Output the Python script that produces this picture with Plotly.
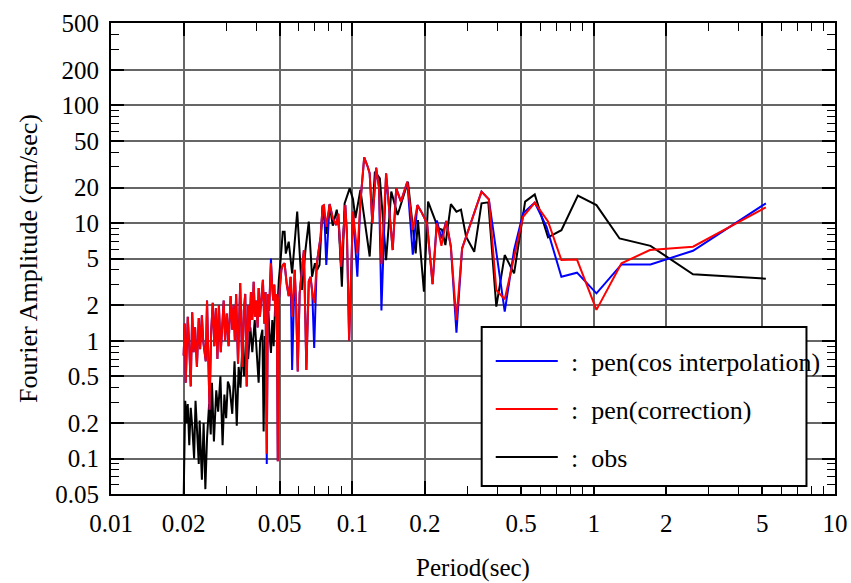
import math
import plotly.graph_objects as go

# ---------------- data ----------------
series_names = ["pen(cos interpolation)", "pen(correction)", "obs"]
series_colors = ["#0000ff", "#ff0000", "#000000"]

period_red = [0.0200,0.0202,0.0204,0.0208,0.0211,0.0214,0.0217,0.0220,0.0223,0.0227,
              0.0231,0.0234,0.0238,0.0241,0.0247,0.0250,0.0256,0.0260,0.0264,0.0268,
              0.0272,0.0276,0.0280,0.0285,0.0293,0.0297,0.0302,0.0307,0.0313,0.0318,
              0.0322,0.0326,0.0330,0.0336,0.0343,0.0350,0.0355,0.0360,0.0365,0.0370,
              0.0375,0.0380,0.0385,0.0390,0.0395,0.0400,0.0405,0.0409,0.0414,0.0420,
              0.0426,0.0432,0.0437,0.0442,0.0447,0.0452,0.0456,0.0460,0.0465,0.0470,
              0.0475,0.0480,0.0486,0.0491,0.0496,0.0502,0.0508,0.0515,0.0524,0.0535,
              0.0545,0.0555,0.0563,0.0577,0.0585,0.0594,0.0605,0.0618,0.0630,0.0645,
              0.0660,0.0671,0.0682,0.0695,0.0712,0.0739,0.0753,0.0763,0.0780,0.0805,
              0.0830,0.0857,0.0875,0.0899,0.0935,0.0950,0.0970,0.1006,0.1049,0.1080,
              0.1120,0.1158,0.1180,0.1210,0.1255,0.1290,0.1320,0.1380,0.1470,0.1520,
              0.1590,0.1690,0.1780,0.1860,0.1930,0.2040,0.2150,0.2240,0.2340,0.2450,
              0.2560,0.2700,0.2850,0.3160,0.3430,0.3680,0.3950,0.4280,0.5100,0.5700,
              0.6470,0.7350,0.8530,1.0270,1.3040,1.7100,2.5800,5.1700]
amp_red = [0.75,1.4,0.44,1.6,0.9,0.41,1.75,0.8,1.3,0.6,
           1.56,0.85,1.65,1.0,0.67,2.2,0.26,1.2,2.1,0.9,
           1.9,0.7,2.0,0.8,2.2,1.0,1.7,0.9,2.4,1.24,
           2.0,1.0,2.5,0.64,3.1,0.6,1.8,2.5,0.41,2.0,
           1.2,2.6,1.5,3.17,1.6,2.2,1.3,2.8,1.6,2.4,
           3.3,1.4,2.6,0.11,2.5,1.8,3.5,4.55,3.0,2.2,
           3.0,1.6,2.5,0.095,2.2,3.0,4.0,4.4,4.55,3.0,
           2.4,3.5,1.6,4.0,2.0,0.55,2.53,4.0,5.9,0.565,
           3.2,3.5,2.6,2.1,4.5,7.65,13.95,14.2,9.3,14.5,
           11.0,9.6,12.0,4.26,14.2,8.0,1.0,12.5,5.53,15.0,
           36.2,30.1,26.4,9.95,29.5,20.0,4.5,26.4,5.9,19.7,
           15.2,22.4,8.7,14.2,12.5,9.95,3.02,9.95,6.4,10.4,
           6.3,1.5,6.1,11.3,18.5,15.9,2.7,2.25,11.3,14.9,
           10.3,4.85,4.9,1.83,4.55,5.9,6.3,13.6]

period_blue = [0.0200,0.0202,0.0204,0.0208,0.0211,0.0214,0.0217,0.0220,0.0223,0.0227,
               0.0231,0.0234,0.0238,0.0241,0.0247,0.0250,0.0256,0.0260,0.0264,0.0268,
               0.0272,0.0276,0.0280,0.0285,0.0293,0.0297,0.0302,0.0307,0.0313,0.0318,
               0.0322,0.0326,0.0330,0.0336,0.0343,0.0350,0.0355,0.0360,0.0365,0.0370,
               0.0375,0.0380,0.0385,0.0390,0.0395,0.0400,0.0405,0.0409,0.0414,0.0420,
               0.0426,0.0432,0.0437,0.0442,0.0447,0.0452,0.0456,0.0460,0.0465,0.0470,
               0.0475,0.0480,0.0486,0.0491,0.0496,0.0502,0.0508,0.0515,0.0524,0.0535,
               0.0545,0.0555,0.0563,0.0577,0.0585,0.0594,0.0605,0.0618,0.0630,0.0645,
               0.0660,0.0671,0.0682,0.0695,0.0712,0.0739,0.0753,0.0763,0.0780,0.0805,
               0.0830,0.0857,0.0875,0.0899,0.0935,0.0950,0.0970,0.1006,0.1049,0.1080,
               0.1120,0.1158,0.1180,0.1210,0.1255,0.1290,0.1320,0.1380,0.1470,0.1520,
               0.1590,0.1690,0.1780,0.1860,0.1930,0.2040,0.2150,0.2240,0.2340,0.2450,
               0.2560,0.2700,0.2850,0.3160,0.3430,0.3680,
               0.3950,0.4280,0.4680,0.5100,0.5700,0.6380,0.7350,0.8530,1.0270,1.3040,
               1.7200,2.5800,5.1700]
amp_blue = [0.75,1.4,0.44,1.6,0.9,0.41,1.75,0.8,1.3,0.6,
            1.56,0.85,1.65,1.0,0.67,2.2,0.26,1.2,2.1,0.9,
            1.9,0.7,2.0,0.8,2.2,1.0,1.7,0.9,2.4,1.24,
            2.0,1.0,2.5,0.64,3.1,0.6,1.8,2.5,0.41,2.0,
            1.2,2.6,1.5,3.17,1.6,2.2,1.3,2.8,1.6,2.4,
            3.3,1.4,2.6,0.09,2.5,1.8,3.5,5.0,3.0,2.2,
            3.0,1.6,2.5,0.095,2.2,3.0,4.0,4.4,4.55,3.0,
            2.4,3.5,0.565,4.0,2.0,0.55,2.53,4.0,5.9,0.565,
            3.2,3.5,2.6,0.87,4.5,7.65,13.95,14.2,4.4,14.5,
            11.0,9.6,12.0,4.26,14.2,8.0,1.0,12.5,3.5,15.0,
            36.2,30.1,26.4,9.95,29.5,20.0,1.81,26.4,5.9,19.7,
            15.2,22.4,5.4,14.2,12.5,9.95,3.02,10.5,7.4,10.4,
            6.3,1.17,6.1,11.3,18.5,15.9,
            5.7,1.77,5.9,12.1,14.9,9.3,3.5,3.79,2.53,4.45,
            4.45,5.82,14.7]

period_obs = [0.0200,0.0203,0.0206,0.0208,0.0211,0.0214,0.0217,0.0221,0.0224,0.0227,
              0.0231,0.0233,0.0238,0.0242,0.0246,0.0250,0.0255,0.0259,0.0262,0.0267,
              0.0273,0.0278,0.0284,0.0290,0.0295,0.0300,0.0305,0.0310,0.0318,0.0325,
              0.0332,0.0338,0.0344,0.0350,0.0356,0.0363,0.0370,0.0378,0.0385,0.0394,
              0.0400,0.0409,0.0415,0.0424,0.0429,0.0434,0.0440,0.0447,0.0453,0.0460,
              0.0466,0.0472,0.0478,0.0484,0.0490,0.0496,0.0505,0.0515,0.0524,0.0530,
              0.0545,0.0563,0.0591,0.0618,0.0640,0.0660,0.0681,0.0700,0.0715,0.0731,
              0.0753,0.0780,0.0805,0.0830,0.0862,0.0880,0.0905,0.0929,0.0975,0.1006,
              0.1030,0.1080,0.1180,0.1240,0.1300,0.1380,0.1450,0.1540,0.1700,0.1830,
              0.1870,0.1980,0.2060,0.2270,0.2350,0.2430,0.2560,0.2700,0.2820,0.2960,
              0.3200,0.3430,0.3660,0.3950,0.4280,0.4680,0.5200,0.5700,0.6470,0.7350,
              0.8600,1.0270,1.2800,1.7200,2.5800,5.1700]
amp_obs = [0.045,0.31,0.2,0.29,0.13,0.27,0.19,0.1,0.31,0.18,
           0.09,0.21,0.066,0.2,0.055,0.15,0.29,0.16,0.44,0.14,
           0.38,0.25,0.5,0.13,0.35,0.22,0.45,0.41,0.24,0.67,
           0.19,0.6,0.4,0.9,0.5,1.08,0.7,1.3,0.8,1.5,
           0.9,0.44,1.0,1.24,0.17,1.1,0.9,2.2,1.2,0.79,
           1.5,0.9,1.8,2.4,2.0,3.3,5.0,8.45,8.45,5.5,
           6.95,3.74,12.5,2.7,6.0,10.3,3.5,4.55,4.0,4.4,
           13.8,8.1,14.2,9.5,13.0,9.0,2.88,14.7,19.7,16.0,
           11.0,19.1,5.2,27.3,24.0,4.85,18.5,11.7,22.4,5.53,
           10.6,2.61,15.2,9.0,8.8,6.5,14.5,12.5,13.0,7.65,
           5.7,14.7,15.0,1.95,5.35,3.74,15.2,17.5,7.57,8.7,
           17.1,14.2,7.4,6.4,3.67,3.37]

x_tick_vals = [0.01, 0.02, 0.05, 0.1, 0.2, 0.5, 1, 2, 5, 10]
x_tick_text = ["0.01", "0.02", "0.05", "0.1", "0.2", "0.5", "1", "2", "5", "10"]
x_minor_vals = [0.03, 0.04, 0.06, 0.07, 0.08, 0.09, 0.3, 0.4, 0.6, 0.7, 0.8, 0.9,
                3, 4, 6, 7, 8, 9]
y_tick_vals = [0.05, 0.1, 0.2, 0.5, 1, 2, 5, 10, 20, 50, 100, 200, 500]
y_tick_text = ["0.05", "0.1", "0.2", "0.5", "1", "2", "5", "10", "20", "50", "100", "200", "500"]
y_minor_vals = [0.06, 0.07, 0.08, 0.09, 0.3, 0.4, 0.6, 0.7, 0.8, 0.9, 3, 4, 6, 7, 8, 9,
                30, 40, 60, 70, 80, 90, 300, 400]

x_title = "Period(sec)"
y_title = "Fourier Amplitude (cm/sec)"

# ---------------- figure ----------------
FONT = "Liberation Serif"
fig = go.Figure()

# drawing order: obs underneath, then blue, then red on top
fig.add_trace(go.Scatter(x=period_obs, y=amp_obs, mode="lines", name=series_names[2],
                         line=dict(color=series_colors[2], width=2)))
fig.add_trace(go.Scatter(x=period_blue, y=amp_blue, mode="lines", name=series_names[0],
                         line=dict(color=series_colors[0], width=2)))
fig.add_trace(go.Scatter(x=period_red, y=amp_red, mode="lines", name=series_names[1],
                         line=dict(color=series_colors[1], width=2)))

axis_common = dict(
    type="log", showline=True, linecolor="black", linewidth=2, mirror="allticks",
    ticks="inside", ticklen=13, tickwidth=1.5, tickcolor="black",
    showgrid=True, gridcolor="#666666", gridwidth=1.5, zeroline=False,
    tickfont=dict(family=FONT, size=25, color="black"), automargin=False,
)
fig.update_xaxes(
    **axis_common,
    range=[math.log10(0.01), math.log10(10)],
    tickmode="array", tickvals=x_tick_vals, ticktext=x_tick_text,
    minor=dict(tickmode="array", tickvals=x_minor_vals, ticks="inside", ticklen=8,
               tickwidth=1.2, tickcolor="black", showgrid=False),
    title=dict(text=x_title, font=dict(family=FONT, size=25, color="black"), standoff=22),
    ticklabelstandoff=6,
)
fig.update_yaxes(
    **axis_common,
    range=[math.log10(0.05), math.log10(500)],
    tickmode="array", tickvals=y_tick_vals, ticktext=y_tick_text,
    minor=dict(tickmode="array", tickvals=y_minor_vals, ticks="inside", ticklen=8,
               tickwidth=1.2, tickcolor="black", showgrid=False),
    title=dict(text=y_title, font=dict(family=FONT, size=26, color="black"), standoff=10),
    ticklabelstandoff=5,
)

# ---- legend box drawn in paper coordinates ----
shapes = [dict(type="rect", xref="paper", yref="paper", x0=0.512, x1=0.9606,
               y0=0.017, y1=0.3546, line=dict(color="black", width=2),
               fillcolor="white", layer="above")]
annotations = []
legend_order = [0, 1, 2]
row_y = [0.2824, 0.1805, 0.0786]
for k, idx in enumerate(legend_order):
    shapes.append(dict(type="line", xref="paper", yref="paper", x0=0.5314, x1=0.6171,
                       y0=row_y[k], y1=row_y[k], layer="above",
                       line=dict(color=series_colors[idx], width=2)))
    annotations.append(dict(xref="paper", yref="paper", x=0.6323, y=row_y[k] - 0.004,
                            xanchor="left", yanchor="middle", showarrow=False,
                            text=":  " + series_names[idx],
                            font=dict(family=FONT, size=26, color="black")))

fig.update_layout(
    width=851, height=583,
    margin=dict(l=111, r=16, t=23, b=89),
    paper_bgcolor="white", plot_bgcolor="white",
    showlegend=False,
    font=dict(family=FONT, size=25, color="black"),
    shapes=shapes, annotations=annotations,
)

fig.write_html("out.html")
